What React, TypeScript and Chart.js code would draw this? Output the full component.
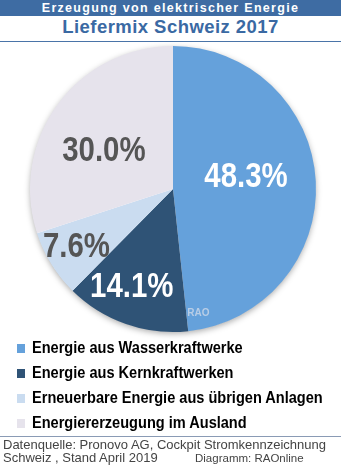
import React, { useEffect, useRef } from "react";
import { Chart, registerables } from "chart.js";

Chart.register(...registerables);

const categories = [
  "Energie aus Wasserkraftwerke",
  "Energie aus Kernkraftwerken",
  "Erneuerbare Energie aus übrigen Anlagen",
  "Energiererzeugung im Ausland",
];
const values = [48.3, 14.1, 7.6, 30.0];
const valueLabels = ["48.3%", "14.1%", "7.6%", "30.0%"];
const colors = ["#65a1db", "#2f5376", "#cadcf0", "#e6e3ec"];
const labelColors = ["#ffffff", "#ffffff", "#555555", "#555555"];
const labelRadius = [0.52, 0.73, 0.78, 0.56];
const labelAngleShift = [-8, 4, 1.6, -5.6];

const SANS = "'Liberation Sans', Arial, sans-serif";

const labelPlugin = {
  id: "sliceLabels",
  beforeDatasetsDraw(chart: any) {
    const meta = chart.getDatasetMeta(0);
    const arc = meta.data[0];
    if (!arc) return;
    const { x, y, outerRadius } = arc.getProps(["x", "y", "outerRadius"], true);
    const ctx = chart.ctx;
    ctx.save();
    ctx.shadowColor = "rgba(0,0,0,0.35)";
    ctx.shadowBlur = 6;
    ctx.shadowOffsetY = 2;
    ctx.fillStyle = "#ffffff";
    ctx.beginPath();
    ctx.arc(x, y, outerRadius - 0.5, 0, Math.PI * 2);
    ctx.fill();
    ctx.restore();
  },
  afterDatasetsDraw(chart: any) {
    const ctx = chart.ctx;
    const meta = chart.getDatasetMeta(0);
    const fontSize = 35;
    meta.data.forEach((el: any, i: number) => {
      const { x, y, startAngle, endAngle, outerRadius } = el.getProps(
        ["x", "y", "startAngle", "endAngle", "outerRadius"],
        true
      );
      const mid = (startAngle + endAngle) / 2 + (labelAngleShift[i] * Math.PI) / 180;
      const r = outerRadius * labelRadius[i];
      const cx = x + Math.cos(mid) * r;
      const cy = y + Math.sin(mid) * r;
      ctx.save();
      ctx.translate(cx, cy + fontSize * 0.716 / 2);
      ctx.scale(0.84, 1);
      ctx.font = `bold ${fontSize}px ${SANS}`;
      ctx.fillStyle = labelColors[i];
      ctx.textAlign = "center";
      ctx.textBaseline = "alphabetic";
      ctx.fillText(valueLabels[i], 0, 0);
      ctx.restore();
    });
    // watermark
    const a0 = meta.data[0];
    if (a0) {
      const { x, y, outerRadius } = a0.getProps(["x", "y", "outerRadius"], true);
      ctx.save();
      ctx.font = `bold 10px ${SANS}`;
      ctx.fillStyle = "#b8cde6";
      ctx.textAlign = "left";
      ctx.textBaseline = "middle";
      ctx.fillText("RAO", x + outerRadius * 0.1, y + outerRadius * 0.87);
      ctx.restore();
    }
  },
};

function PieChart() {
  const ref = useRef<HTMLCanvasElement | null>(null);
  useEffect(() => {
    if (!ref.current) return;
    const chart = new Chart(ref.current, {
      type: "pie",
      data: {
        labels: categories,
        datasets: [
          {
            data: values,
            backgroundColor: colors,
            borderWidth: 0,
          },
        ],
      },
      options: {
        responsive: false,
        animation: false,
        layout: { padding: { left: 10, right: 10, top: 6, bottom: 8 } },
        plugins: {
          legend: { display: false },
          tooltip: { enabled: false },
        },
      },
      plugins: [labelPlugin],
    });
    return () => chart.destroy();
  }, []);
  return (
    <canvas
      ref={ref}
      width={306}
      height={300}
      style={{ position: "absolute", left: 20, top: 40, width: 306, height: 300 }}
    />
  );
}

export default function App() {
  useEffect(() => {
    document.body.style.margin = "0";
  }, []);
  return (
    <div
      style={{
        position: "fixed",
        left: 0,
        top: 0,
        width: 341,
        height: 467,
        background: "#ffffff",
        overflow: "hidden",
        fontFamily: SANS,
      }}
    >
      <div
        style={{
          position: "absolute",
          left: 0,
          top: 0,
          width: 341,
          height: 16,
          background: "#3e6ca3",
          color: "#ffffff",
          fontWeight: "bold",
          fontSize: 12.5,
          lineHeight: "17px",
          textAlign: "center",
          letterSpacing: 1.3,
        }}
      >
        Erzeugung von elektrischer Energie
      </div>
      <div
        style={{
          position: "absolute",
          left: 0,
          top: 16,
          width: 341,
          height: 22,
          color: "#3a69a3",
          fontWeight: "bold",
          fontSize: 18.5,
          lineHeight: "22px",
          textAlign: "center",
          letterSpacing: 0.45,
        }}
      >
        Liefermix Schweiz 2017
      </div>
      <div
        style={{ position: "absolute", left: 0, top: 41, width: 341, height: 1, background: "#4a74a8" }}
      />
      <PieChart />
      {categories.map((c, i) => (
        <React.Fragment key={c}>
          <div
            style={{
              position: "absolute",
              left: 17,
              top: 344 + i * 25,
              width: 8,
              height: 9,
              background: colors[i],
            }}
          />
          <div
            style={{
              position: "absolute",
              left: 32,
              top: 338 + i * 25,
              height: 20,
              lineHeight: "20px",
              whiteSpace: "nowrap",
              fontWeight: "bold",
              fontSize: 16,
              color: "#000",
              transform: "scaleX(0.91)",
              transformOrigin: "left center",
            }}
          >
            {c}
          </div>
        </React.Fragment>
      ))}
      <div
        style={{ position: "absolute", left: 0, top: 436, width: 341, height: 1, background: "#8a9bb5" }}
      />
      <div
        style={{
          position: "absolute",
          left: 3,
          top: 438,
          fontSize: 13,
          lineHeight: "13px",
          color: "#444",
          whiteSpace: "nowrap",
        }}
      >
        Datenquelle: Pronovo AG, Cockpit Stromkennzeichnung
      </div>
      <div
        style={{
          position: "absolute",
          left: 3,
          top: 451,
          fontSize: 13,
          lineHeight: "13px",
          color: "#444",
          whiteSpace: "nowrap",
        }}
      >
        Schweiz , Stand April 2019
      </div>
      <div
        style={{
          position: "absolute",
          left: 195,
          top: 452,
          fontSize: 11.5,
          lineHeight: "13px",
          color: "#444",
          whiteSpace: "nowrap",
        }}
      >
        Diagramm: RAOnline
      </div>
    </div>
  );
}
